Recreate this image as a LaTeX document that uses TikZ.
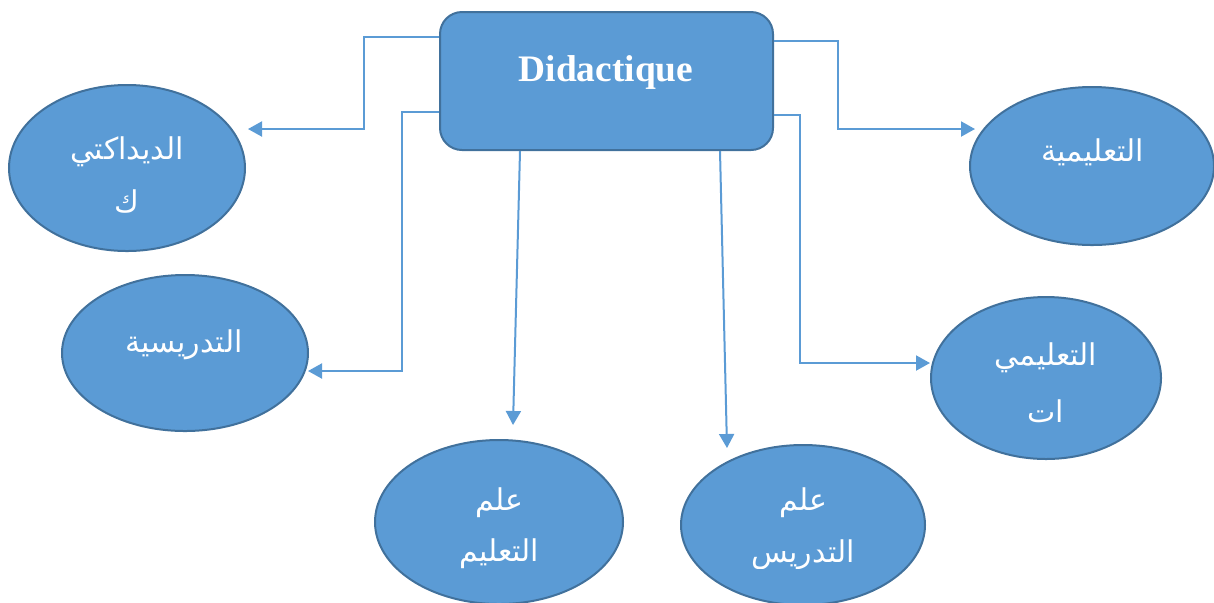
\documentclass[tikz,border=0pt]{standalone}
\usepackage{fontspec}
\setmainfont{Liberation Serif}
\newfontfamily\arabicfont[Script=Arabic]{DejaVu Sans}
\TeXXeTstate=1
\usetikzlibrary{arrows.meta,shapes.geometric}
\definecolor{fillblue}{HTML}{5B9BD5}
\definecolor{edgeblue}{HTML}{41719C}
\tikzset{
  ell/.style={ellipse, draw=edgeblue, fill=fillblue, line width=1pt, inner sep=0pt},
  boxst/.style={rectangle, rounded corners=11pt, draw=edgeblue, fill=fillblue, line width=1pt, inner sep=0pt},
  artxt/.style={text=white, font=\arabicfont\fontsize{15}{17}\selectfont, inner sep=0pt, anchor=center},
  conn/.style={draw=fillblue, line width=1pt, -{Triangle[length=7pt,width=7.5pt]}},
}
\begin{document}
\begin{tikzpicture}[x=0.5pt,y=-0.5pt]
\useasboundingbox (0,0) rectangle (1214,602);
% central box
\node[boxst, minimum width=166.5pt, minimum height=69pt] (box) at (606.5,81) {};
\node[text=white, font=\bfseries\fontsize{18.7}{20}\selectfont, inner sep=0pt] (boxt) at (606,72) {Didactique};
% ellipses
\node[ell, minimum width=118pt, minimum height=83pt] (e1) at (127,168) {};
\node[ell, minimum width=123pt, minimum height=78pt] (e2) at (185,353) {};
\node[ell, minimum width=124pt, minimum height=82pt] (e3) at (499,522) {};
\node[ell, minimum width=122pt, minimum height=80pt] (e4) at (803,525) {};
\node[ell, minimum width=122pt, minimum height=79pt] (e5) at (1092,166) {};
\node[ell, minimum width=115pt, minimum height=81pt] (e6) at (1046,378) {};
% texts
\node[artxt] (t1a) at (127,152) {\beginR الديداكتي\endR};
\node[artxt] (t1b) at (127,201) {\beginR ك\endR};
\node[artxt] (t2) at (184,345) {\beginR التدريسية\endR};
\node[artxt] (t5) at (1093,152) {\beginR التعليمية\endR};
\node[artxt] (t6a) at (1046,358) {\beginR التعليمي\endR};
\node[artxt] (t6b) at (1046,411) {\beginR ات\endR};
\node[artxt] (t3a) at (499,503) {\beginR علم\endR};
\node[artxt] (t4a) at (803,503) {\beginR علم\endR};
\begin{scope}
\clip (0,0) rectangle (1214,568);
\node[artxt, anchor=base] (t3b) at (499,561) {\beginR التعليم\endR};
\node[artxt, anchor=base] (t4b) at (803,562) {\beginR التدريس\endR};
\end{scope}
% arrow end points
\coordinate (a1) at (248,129);
\coordinate (a2) at (308,371);
\coordinate (a3) at (513,425);
\coordinate (a4) at (727,448);
\coordinate (a5) at (975,129);
\coordinate (a6) at (930,363);
% connectors
\draw[conn] (box.west |- 0,37) -- (364,37) |- (a1);
\draw[conn] (box.west |- 0,112) -- (402,112) |- (a2);
\draw[conn] (box.south -| 520,0) -- (a3);
\draw[conn] (box.south -| 720,0) -- (a4);
\draw[conn] (box.east |- 0,41) -- (838,41) |- (a5);
\draw[conn] (box.east |- 0,115) -- (800,115) |- (a6);
\end{tikzpicture}
\end{document}
